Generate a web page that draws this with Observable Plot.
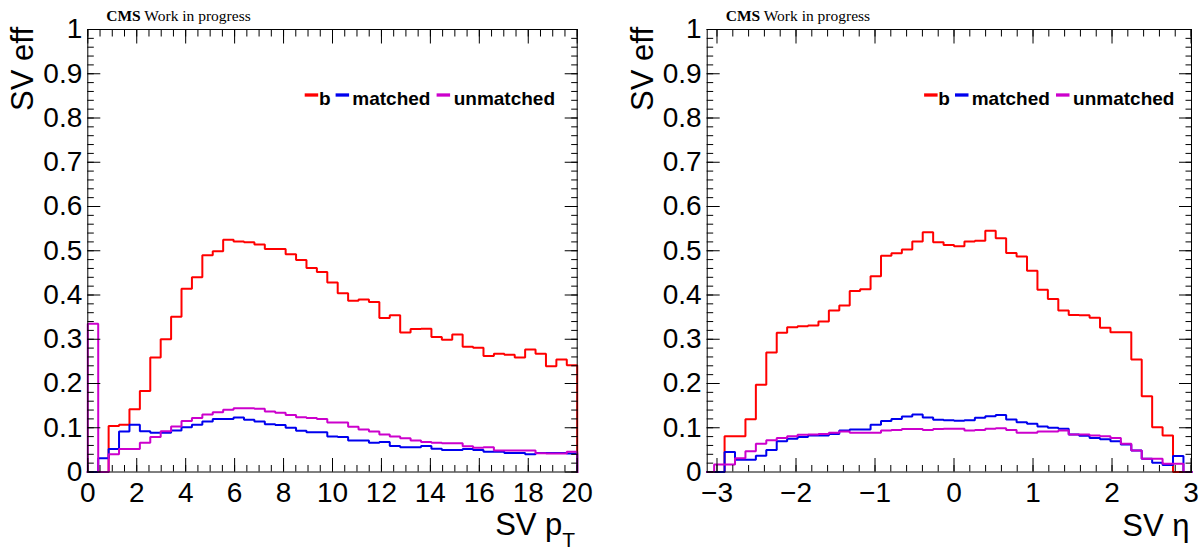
<!DOCTYPE html>
<html>
<head>
<meta charset="utf-8">
<script src="https://cdn.jsdelivr.net/npm/d3@7"></script>
<script src="https://cdn.jsdelivr.net/npm/@observablehq/plot@0.6"></script>
<style>
  html, body { margin: 0; padding: 0; background: #fff; }
  #wrap { position: relative; width: 1201px; height: 550px; overflow: hidden; background: #fff; }
  #wrap svg { position: absolute; top: 0; }
</style>
</head>
<body>
<div id="wrap"></div>
<script>
// ---------------- data ----------------
const seriesNames = ["b", "matched", "unmatched"];
const seriesColors = ["#ff0000", "#0000ee", "#cc00cc"];

// SV pT histogram: 47 bins over [0, 20]
const ptBinning = [47, 0, 20];
const ptB = [0, 0, 0.104, 0.107, 0.142, 0.183, 0.259, 0.300, 0.351, 0.414, 0.440, 0.490, 0.499, 0.525, 0.521, 0.519, 0.514, 0.504, 0.504, 0.492, 0.479, 0.461, 0.452, 0.428, 0.404, 0.387, 0.390, 0.384, 0.348, 0.354, 0.315, 0.323, 0.324, 0.305, 0.299, 0.311, 0.283, 0.281, 0.262, 0.267, 0.265, 0.259, 0.277, 0.267, 0.239, 0.254, 0.241];
const ptMatched = [0, 0.031, 0.052, 0.0915, 0.107, 0.092, 0.0885, 0.0885, 0.094, 0.101, 0.107, 0.114, 0.120, 0.120, 0.123, 0.118, 0.114, 0.108, 0.106, 0.100, 0.093, 0.090, 0.090, 0.080, 0.079, 0.071, 0.071, 0.066, 0.068, 0.059, 0.056, 0.056, 0.059, 0.0525, 0.050, 0.050, 0.052, 0.050, 0.046, 0.046, 0.043, 0.043, 0.040, 0.043, 0.043, 0.043, 0.042];
const ptUnmatched = [0.335, 0, 0.040, 0.052, 0.052, 0.066, 0.079, 0.092, 0.103, 0.115, 0.122, 0.130, 0.135, 0.1405, 0.144, 0.144, 0.143, 0.137, 0.134, 0.129, 0.124, 0.122, 0.120, 0.112, 0.112, 0.102, 0.096, 0.0915, 0.085, 0.080, 0.076, 0.071, 0.068, 0.066, 0.065, 0.065, 0.058, 0.055, 0.056, 0.0485, 0.0485, 0.0485, 0.0485, 0.0425, 0.042, 0.042, 0.046];

// SV eta histogram: 50 bins over [-3.3, 3.3]
const etaBinning = [50, -3.3, 3.3];
const etaB = [0, 0, 0, 0.081, 0.081, 0.119, 0.197, 0.270, 0.3145, 0.327, 0.3295, 0.331, 0.340, 0.365, 0.376, 0.409, 0.413, 0.4425, 0.4885, 0.4945, 0.503, 0.521, 0.542, 0.519, 0.513, 0.510, 0.521, 0.5225, 0.545, 0.528, 0.495, 0.487, 0.455, 0.412, 0.391, 0.365, 0.355, 0.354, 0.3485, 0.326, 0.316, 0.316, 0.254, 0.171, 0.101, 0.0825, 0, 0, 0, 0];
const etaMatched = [0, 0, 0, 0.045, 0.0275, 0.0275, 0.037, 0.050, 0.0696, 0.075, 0.079, 0.0825, 0.0825, 0.086, 0.094, 0.096, 0.096, 0.107, 0.115, 0.120, 0.1255, 0.130, 0.123, 0.118, 0.117, 0.116, 0.117, 0.1225, 0.126, 0.129, 0.1185, 0.1125, 0.109, 0.103, 0.100, 0.0975, 0.085, 0.082, 0.077, 0.074, 0.0696, 0.062, 0.0486, 0.030, 0.021, 0.016, 0.036, 0, 0, 0];
const etaUnmatched = [0, 0, 0.017, 0.017, 0.031, 0.047, 0.064, 0.072, 0.077, 0.081, 0.084, 0.085, 0.086, 0.0886, 0.0915, 0.0886, 0.0886, 0.0886, 0.094, 0.095, 0.097, 0.097, 0.095, 0.097, 0.0975, 0.0975, 0.094, 0.095, 0.0975, 0.099, 0.095, 0.0886, 0.0886, 0.0915, 0.0915, 0.094, 0.085, 0.085, 0.0825, 0.081, 0.077, 0.064, 0.0486, 0.030, 0.030, 0.0186, 0.0186, 0, 0, 0];

// axis ranges and tick labels
const yDomain = [0, 1];
const yTicks = [0, 0.1, 0.2, 0.3, 0.4, 0.5, 0.6, 0.7, 0.8, 0.9, 1];
const yTickLabels = ["0", "0.1", "0.2", "0.3", "0.4", "0.5", "0.6", "0.7", "0.8", "0.9", "1"];
const ptDomain = [0, 20];
const ptTicks = [0, 2, 4, 6, 8, 10, 12, 14, 16, 18, 20];
const ptTickLabels = ["0", "2", "4", "6", "8", "10", "12", "14", "16", "18", "20"];
const etaDomain = [-3.124, 3.006];
const etaTicks = [-3, -2, -1, 0, 1, 2, 3];
const etaTickLabels = ["\u22123", "\u22122", "\u22121", "0", "1", "2", "3"];

// ---------------- drawing ----------------
function stepPoints(values, binning, domain) {
  const [n, lo, hi] = binning;
  const w = (hi - lo) / n;
  const clamp = (x) => Math.max(domain[0], Math.min(domain[1], x));
  const pts = [{x: clamp(lo), y: 0}];
  values.forEach((v, i) => {
    pts.push({x: clamp(lo + i * w), y: v});
    pts.push({x: clamp(lo + (i + 1) * w), y: v});
  });
  pts.push({x: clamp(hi), y: 0});
  return pts;
}

function rangeTicks(domain, step) {
  const out = [];
  const start = Math.ceil(domain[0] / step - 1e-9);
  const end = Math.floor(domain[1] / step + 1e-9);
  for (let i = start; i <= end; i++) out.push(+(i * step).toFixed(6));
  return out;
}

const FONT = "'Liberation Sans', Arial, Helvetica, sans-serif";
const SERIF = "'Liberation Serif', 'Times New Roman', serif";

function makePanel(cfg) {
  const {series, binning, xDomain, xTicks, xTickLabels, xMinorStep, left, width, mLeft, mRight} = cfg;
  const mTop = 29, mBottom = 78.5, H = 550;
  const yMinor = rangeTicks(yDomain, 0.02);
  const xMinor = rangeTicks(xDomain, xMinorStep);
  const yFmt = (d) => yTickLabels[yTicks.indexOf(d)];
  const xFmt = (d) => xTickLabels[xTicks.indexOf(d)];
  const blank = () => "";
  const marks = [];
  series.forEach((vals, i) => {
    marks.push(Plot.line(stepPoints(vals, binning, xDomain), {
      x: "x", y: "y", stroke: seriesColors[i], strokeWidth: 2,
      strokeLinejoin: "miter", strokeLinecap: "square", curve: "linear"
    }));
  });
  // ticks (inward, ROOT style) on all four sides
  for (const anchor of ["left", "right"]) {
    marks.push(Plot.axisY({anchor, ticks: yMinor, tickSize: -6.5, tickFormat: blank, label: null}));
    marks.push(Plot.axisY({anchor, ticks: yTicks, tickSize: -13, tickFormat: blank, label: null}));
  }
  for (const anchor of ["bottom", "top"]) {
    marks.push(Plot.axisX({anchor, ticks: xMinor, tickSize: -6.5, tickFormat: blank, label: null}));
    marks.push(Plot.axisX({anchor, ticks: xTicks, tickSize: -13.5, tickFormat: blank, label: null}));
  }
  // tick labels
  marks.push(Plot.axisY({anchor: "left", ticks: yTicks, tickSize: 0, tickPadding: 5.5, tickFormat: yFmt, fontSize: 28, label: null}));
  marks.push(Plot.axisX({anchor: "bottom", ticks: xTicks, tickSize: 0, tickPadding: 10.5, tickFormat: xFmt, fontSize: 28, label: null}));
  marks.push(Plot.frame({stroke: "#000", strokeWidth: 1}));

  const chart = Plot.plot({
    width, height: H,
    marginLeft: mLeft, marginRight: mRight, marginTop: mTop, marginBottom: mBottom,
    x: {domain: xDomain},
    y: {domain: yDomain},
    style: {fontFamily: FONT, color: "#000", background: "transparent", overflow: "visible"},
    marks
  });
  chart.style.left = left + "px";

  const svg = d3.select(chart);
  const fx = mLeft, fy = mTop, fr = width - mRight;
  // CMS label
  const cms = svg.append("text").attr("x", fx + 19).attr("y", fy - 8).attr("text-anchor", "start")
    .attr("font-family", SERIF).attr("font-size", 15.5).attr("fill", "#000");
  cms.append("tspan").attr("font-weight", "bold").text("CMS");
  cms.append("tspan").text(" Work in progress");
  // legend
  const legendSwatch = [217.4, 248.3, 349.3];
  const legendText = [231.6, 265.0, 366.4];
  seriesNames.forEach((name, i) => {
    svg.append("line").attr("x1", fx + legendSwatch[i]).attr("x2", fx + legendSwatch[i] + 13.5)
      .attr("y1", fy + 66).attr("y2", fy + 66).attr("stroke", seriesColors[i]).attr("stroke-width", 3.3);
    svg.append("text").attr("x", fx + legendText[i]).attr("y", fy + 76).attr("text-anchor", "start")
      .attr("font-family", FONT).attr("font-weight", "bold").attr("font-size", 19).attr("fill", "#000").text(name);
  });
  // y title
  svg.append("text").attr("transform", `translate(${fx - 54},${fy - 2}) rotate(-90)`)
    .attr("text-anchor", "end").attr("font-family", FONT).attr("font-size", 31).attr("fill", "#000").text("SV eff");
  // x title
  const xt = svg.append("text").attr("x", fr - 1.5).attr("y", cfg.titleBaseline)
    .attr("text-anchor", "end").attr("font-family", FONT).attr("font-size", 31).attr("fill", "#000");
  xt.append("tspan").text(cfg.xTitle);
  if (cfg.xTitleSub) xt.append("tspan").attr("font-size", 21).attr("dy", 12).text(cfg.xTitleSub);
  return chart;
}

const wrap = document.getElementById("wrap");
wrap.appendChild(makePanel({
  series: [ptB, ptMatched, ptUnmatched], binning: ptBinning,
  xDomain: ptDomain, xTicks: ptTicks, xTickLabels: ptTickLabels, xMinorStep: 0.5,
  left: 0, width: 600, mLeft: 87.3, mRight: 23.3,
  xTitle: "SV p", xTitleSub: "T", titleBaseline: 535
}));
wrap.appendChild(makePanel({
  series: [etaB, etaMatched, etaUnmatched], binning: etaBinning,
  xDomain: etaDomain, xTicks: etaTicks, xTickLabels: etaTickLabels, xMinorStep: 0.2,
  left: 600, width: 601, mLeft: 106.7, mRight: 10,
  xTitle: "SV \u03b7", xTitleSub: null, titleBaseline: 536
}));
</script>
</body>
</html>
